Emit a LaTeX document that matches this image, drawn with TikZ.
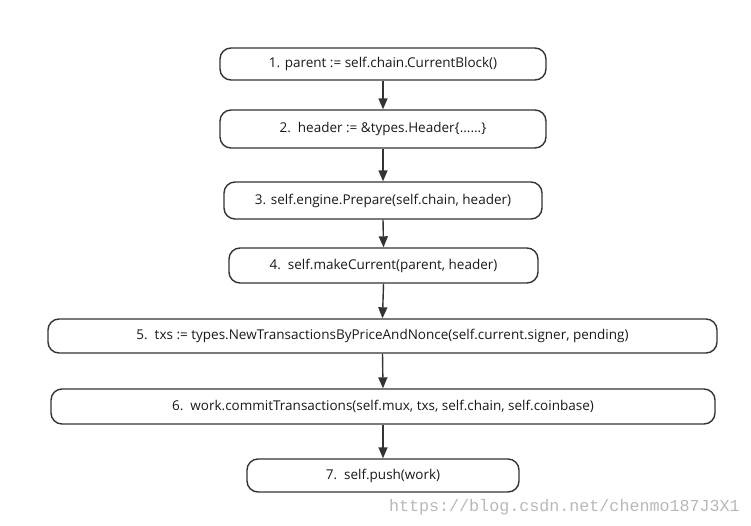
\documentclass[tikz,border=0pt]{standalone}
\usepackage{fontspec}
\setmainfont{Open Sans}
\newfontfamily\markfont{Liberation Mono}
\usetikzlibrary{arrows.meta}
\definecolor{ink}{HTML}{333333}

\tikzset{
	stepbox/.style={draw=ink,line width=1.4pt,rounded corners=11pt,inner sep=0pt,
		font=\fontsize{13.5}{15}\selectfont,text=black!90},
	flow/.style={draw=ink,line width=1.4pt,-{Triangle[length=11pt,width=9pt]}}
}

\begin{document}
\begin{tikzpicture}[x=1pt,y=-1pt]
			\useasboundingbox (0,0) rectangle (751,525);
			\node[stepbox,minimum width=326pt,minimum height=32pt] (s1) at (383,64) {1. parent := self.chain.CurrentBlock()};
			\node[stepbox,minimum width=326pt,minimum height=38pt] (s2) at (383,129) {2.\ \ header := \&types.Header\{......\}};
			\node[stepbox,minimum width=318pt,minimum height=37pt] (s3) at (383,200.5) {3. self.engine.Prepare(self.chain, header)};
			\node[stepbox,minimum width=309pt,minimum height=35pt] (s4) at (383.5,265.5) {4.\ \ self.makeCurrent(parent, header)};
			\node[stepbox,minimum width=669pt,minimum height=34pt] (s5) at (382.5,336) {5.\ \ txs := types.NewTransactionsByPriceAndNonce(self.current.signer, pending)};
			\node[stepbox,minimum width=664pt,minimum height=35pt] (s6) at (383,406.5) {6.\ \ work.commitTransactions(self.mux, txs, self.chain, self.coinbase)};
			\node[stepbox,minimum width=272pt,minimum height=33pt] (s7) at (383,475.5) {7.\ \ self.push(work)};
			\foreach \Haut/\Bas in {s1/s2,s2/s3,s3/s4,s4/s5,s5/s6,s6/s7}
			\draw[flow] (\Haut.south) -- (\Bas.north);
			\node[anchor=east,inner sep=0pt,text=black!28,font=\markfont\fontsize{16.7}{18}\selectfont] (mark) at (740,507) {https://blog.csdn.net/chenmo187J3X1};
		\end{tikzpicture}
\end{document}
